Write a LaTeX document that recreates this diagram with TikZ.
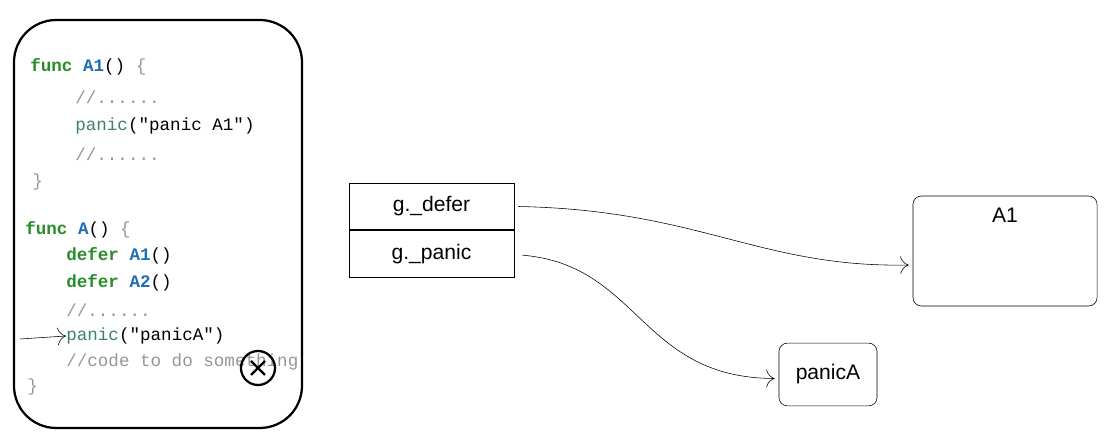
\documentclass[tikz,border=0pt]{standalone}
\usepackage{fontspec}
\setmainfont{Liberation Sans}
\newfontfamily\codefont{Liberation Mono}
\usetikzlibrary{arrows.meta, positioning, calc}
\definecolor{kwgreen}{RGB}{40,140,40}
\definecolor{fnblue}{RGB}{30,110,180}
\definecolor{strgreen}{RGB}{60,130,100}
\definecolor{cmtgray}{RGB}{150,150,150}
\tikzset{
  code/.style={anchor=west, inner sep=0pt, font=\codefont\fontsize{12.5}{14}\selectfont},
  cell/.style={rectangle, draw, semithick, minimum width=4.12cm, minimum height=1.17cm,
               font=\fontsize{15}{17}\selectfont},
  box/.style={rectangle, draw, rounded corners=6pt, font=\fontsize{15}{17}\selectfont},
  arrow/.style={-{To[length=6pt]}, thin},
}
\newcommand{\kwd}[1]{\textcolor{kwgreen}{\textbf{#1}}}
\newcommand{\fnm}[1]{\textcolor{fnblue}{\textbf{#1}}}
\newcommand{\cmt}[1]{\textcolor{cmtgray}{#1}}
\newcommand{\stx}[1]{\textcolor{strgreen}{#1}}

\begin{document}
\begin{tikzpicture}[x=0.025cm, y=-0.025cm]
  \useasboundingbox (0,0) rectangle (1120,438);

  % code box
  \draw[line width=1.6pt, rounded corners=30pt] (14,20) rectangle (302,428);
  \node[code] (l1) at (30,67) {\kwd{func} \fnm{A1}() \cmt{\{}};
  \node[code] (l2) at (75,97) {\cmt{//......}};
  \node[code] (l3) at (75,126) {\stx{panic}("panic A1")};
  \node[code] (l4) at (75,154) {\cmt{//......}};
  \node[code] (l5) at (32,182) {\cmt{\}}};
  \node[code] (l6) at (25,230) {\kwd{func} \fnm{A}() \cmt{\{}};
  \node[code] (l7) at (66,256) {\kwd{defer} \fnm{A1}()};
  \node[code] (l8) at (66,283) {\kwd{defer} \fnm{A2}()};
  \node[code] (l9) at (66,310) {\cmt{//......}};
  \node[code] (l10) at (66,336) {\stx{panic}("panicA")};
  \node[code] (l11) at (66,362) {\cmt{//code to do something}};
  \node[code] (l12) at (27,387) {\cmt{\}}};
  \coordinate (cur) at (20,339);
  \draw[arrow] (cur) -- (l10.west);

  % crossed circle
  \node[circle, draw, line width=1.6pt, minimum size=0.85cm, inner sep=0pt] (stop) at (258,368) {};
  \draw[line width=1.6pt] ($(stop.center)+(-7,-7)$) -- ($(stop.center)+(7,7)$)
                    ($(stop.center)+(-7,7)$) -- ($(stop.center)+(7,-7)$);

  % g fields
  \node[cell] (gdefer) at (431.5,206.5) {g.\_defer};
  \node[cell, below=0pt of gdefer] (gpanic) {g.\_panic};

  % targets
  \node[box, minimum width=4.6cm, minimum height=2.75cm] (a1) at (1005,251) {};
  \node[anchor=north, font=\fontsize{15}{17}\selectfont] (a1lbl) at (a1.north) [yshift=-5pt] {A1};
  \node[box, minimum width=2.45cm, minimum height=1.57cm] (pa) at (828,374.5) {panicA};

  \draw[arrow] ($(gdefer.east)+(4,0)$) .. controls (700,210) and (760,268) .. ($(a1.west)+(-4,14)$);
  \draw[arrow] ($(gpanic.east)+(8,1)$) .. controls (640,265) and (640,378) .. ($(pa.west)+(-4,4)$);
\end{tikzpicture}
\end{document}
